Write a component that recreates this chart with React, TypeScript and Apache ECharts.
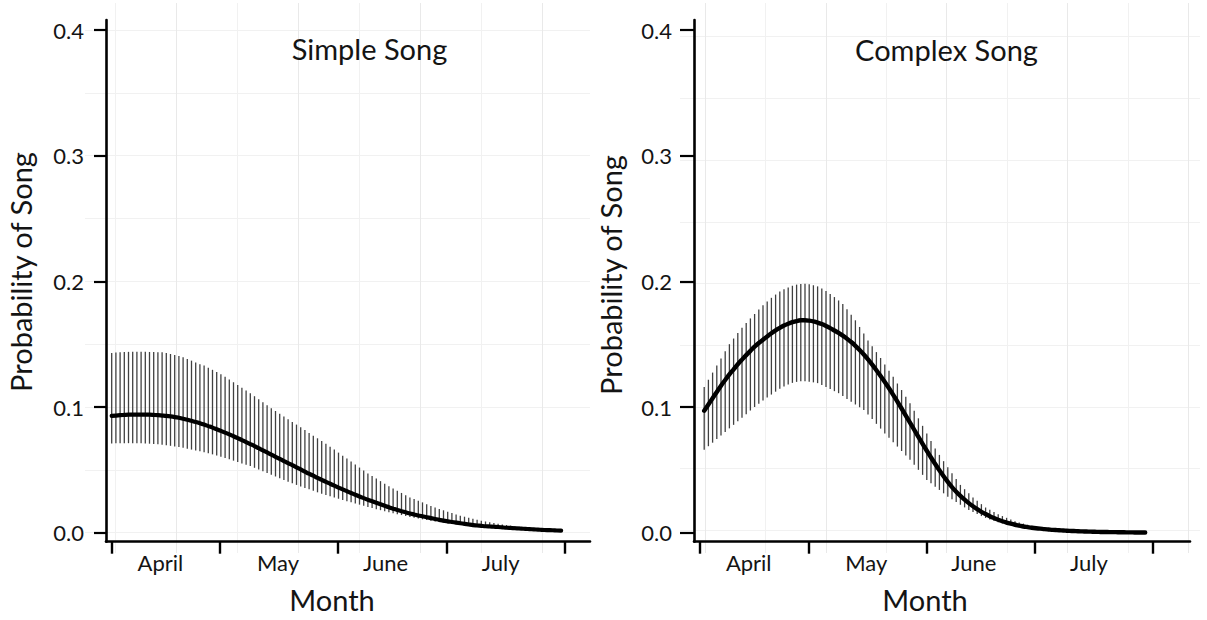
import { useEffect, useRef } from "react";
import * as echarts from "echarts";

// Month axis: tick positions and label positions, in days along the season
const months = ["April", "May", "June", "July"];
const monthTicks = [0, 25.8, 53.9, 79.7, 107.8];
const monthLabelDays = [11.6, 39.6, 65.2, 92.6];
const yTicks = [0, 0.1, 0.2, 0.3, 0.4];

// Simple song: fitted probability and interval, one value per day (day 0..107)
const simpleMean = [
  0.093, 0.0932, 0.0935, 0.0937, 0.0939, 0.094, 0.094, 0.094, 0.094, 0.0939,
  0.0937, 0.0935, 0.0932, 0.0929, 0.0925, 0.092, 0.0914, 0.0907, 0.0899, 0.089,
  0.0881, 0.0871, 0.086, 0.0848, 0.0836, 0.0823, 0.081, 0.0796, 0.0782, 0.0767,
  0.0752, 0.0737, 0.0721, 0.0705, 0.0689, 0.0672, 0.0655, 0.0638, 0.0621, 0.0604,
  0.0587, 0.057, 0.0553, 0.0537, 0.052, 0.0503, 0.0486, 0.0469, 0.0453, 0.0436,
  0.042, 0.0404, 0.0389, 0.0374, 0.0359, 0.0344, 0.033, 0.0316, 0.0302, 0.0288,
  0.0275, 0.0262, 0.025, 0.0238, 0.0226, 0.0214, 0.0202, 0.0191, 0.018, 0.0171,
  0.0162, 0.0153, 0.0145, 0.0137, 0.013, 0.0123, 0.0116, 0.0109, 0.0102, 0.0096,
  0.009, 0.0085, 0.008, 0.0075, 0.007, 0.0065, 0.006, 0.0057, 0.0054, 0.0051,
  0.0049, 0.0047, 0.0045, 0.0042, 0.0039, 0.0037, 0.0035, 0.0033, 0.0031, 0.0029,
  0.0027, 0.0025, 0.0023, 0.0021, 0.002, 0.0019, 0.0017, 0.0016,
];
const simpleUpper = [
  0.143, 0.1433, 0.1436, 0.1438, 0.1439, 0.144, 0.144, 0.144, 0.1439, 0.1438,
  0.1437, 0.1436, 0.1435, 0.1429, 0.1422, 0.1414, 0.1405, 0.1395, 0.1383, 0.1369,
  0.1355, 0.1341, 0.133, 0.1313, 0.1296, 0.1278, 0.126, 0.124, 0.1219, 0.1197,
  0.1175, 0.1153, 0.1131, 0.111, 0.1086, 0.1062, 0.1038, 0.1014, 0.099, 0.0968,
  0.0946, 0.0924, 0.0902, 0.0881, 0.086, 0.0838, 0.0816, 0.0794, 0.0772, 0.0751,
  0.073, 0.0707, 0.0684, 0.0661, 0.0637, 0.0613, 0.059, 0.0566, 0.0542, 0.0518,
  0.0494, 0.047, 0.045, 0.043, 0.041, 0.039, 0.037, 0.0352, 0.0334, 0.0316,
  0.0298, 0.028, 0.0267, 0.0254, 0.0241, 0.0227, 0.0213, 0.02, 0.0189, 0.0178,
  0.0167, 0.0156, 0.0145, 0.0135, 0.0127, 0.0119, 0.0111, 0.0103, 0.0095, 0.0089,
  0.0083, 0.0077, 0.0071, 0.0065, 0.0061, 0.0057, 0.0053, 0.0049, 0.0045, 0.0042,
  0.0039, 0.0037, 0.0034, 0.0031, 0.0029, 0.0027, 0.0024, 0.0022,
];
const simpleLower = [
  0.071, 0.0711, 0.0711, 0.0712, 0.0712, 0.0712, 0.0712, 0.0711, 0.071, 0.0708,
  0.0706, 0.0703, 0.07, 0.0696, 0.0691, 0.0686, 0.0681, 0.0675, 0.0668, 0.0661,
  0.0654, 0.0647, 0.064, 0.0632, 0.0623, 0.0614, 0.0605, 0.0595, 0.0584, 0.0573,
  0.0562, 0.0551, 0.054, 0.053, 0.0516, 0.0502, 0.0488, 0.0474, 0.046, 0.0447,
  0.0433, 0.042, 0.0406, 0.0393, 0.038, 0.0368, 0.0356, 0.0345, 0.0333, 0.0321,
  0.031, 0.03, 0.029, 0.028, 0.027, 0.026, 0.025, 0.0241, 0.0232, 0.0223,
  0.0214, 0.0205, 0.0196, 0.0187, 0.0179, 0.017, 0.0162, 0.0155, 0.0147, 0.014,
  0.0132, 0.0125, 0.0119, 0.0113, 0.0106, 0.01, 0.0094, 0.0088, 0.0084, 0.0079,
  0.0075, 0.0071, 0.0066, 0.0062, 0.0059, 0.0055, 0.0052, 0.0048, 0.0045, 0.0043,
  0.0041, 0.0038, 0.0036, 0.0034, 0.0032, 0.003, 0.0028, 0.0027, 0.0025, 0.0023,
  0.0022, 0.002, 0.0019, 0.0018, 0.0016, 0.0015, 0.0014, 0.0012,
];

// Complex song: fitted probability and interval, one value per day (day 1..106)
const complexMean = [
  0.097, 0.102, 0.107, 0.112, 0.117, 0.1215, 0.126, 0.13, 0.134, 0.1377,
  0.1413, 0.1447, 0.148, 0.1509, 0.1536, 0.1562, 0.1587, 0.161, 0.163, 0.1648,
  0.1663, 0.1675, 0.1684, 0.169, 0.1691, 0.1687, 0.1681, 0.1672, 0.166, 0.1645,
  0.1628, 0.1609, 0.159, 0.1568, 0.1544, 0.1517, 0.1487, 0.1454, 0.1418, 0.1379,
  0.1337, 0.1293, 0.1247, 0.1199, 0.1149, 0.1097, 0.1043, 0.0988, 0.0932, 0.0876,
  0.0819, 0.0763, 0.0707, 0.0652, 0.0598, 0.0546, 0.0496, 0.0449, 0.0404, 0.0362,
  0.0326, 0.0293, 0.0263, 0.0235, 0.021, 0.0187, 0.0166, 0.0148, 0.0131, 0.0116,
  0.0103, 0.0091, 0.008, 0.0071, 0.0063, 0.0056, 0.0049, 0.0044, 0.0039, 0.0035,
  0.0032, 0.0028, 0.0025, 0.0022, 0.002, 0.0018, 0.0016, 0.0014, 0.0013, 0.0011,
  0.001, 0.0009, 0.0008, 0.0007, 0.0006, 0.0005, 0.0005, 0.0004, 0.0004, 0.0003,
  0.0003, 0.0002, 0.0002, 0.0001, 0.0001, 0.0001,
];
const complexUpper = [
  0.116, 0.1217, 0.1274, 0.133, 0.1387, 0.1443, 0.15, 0.1545, 0.1589, 0.163,
  0.1668, 0.1705, 0.174, 0.1775, 0.1809, 0.184, 0.1869, 0.1895, 0.192, 0.1937,
  0.1952, 0.1965, 0.1974, 0.1979, 0.198, 0.1976, 0.1969, 0.196, 0.1943, 0.1923,
  0.19, 0.1875, 0.1848, 0.182, 0.1778, 0.1735, 0.169, 0.1637, 0.1584, 0.153,
  0.1483, 0.1437, 0.139, 0.1339, 0.1289, 0.124, 0.1187, 0.1135, 0.1082, 0.103,
  0.097, 0.091, 0.085, 0.079, 0.073, 0.067, 0.0619, 0.0569, 0.052, 0.0473,
  0.0427, 0.038, 0.0346, 0.0313, 0.028, 0.0253, 0.0227, 0.02, 0.0182, 0.0164,
  0.0146, 0.0132, 0.0118, 0.0104, 0.009, 0.0081, 0.0072, 0.0063, 0.0054, 0.0046,
  0.0042, 0.0038, 0.0034, 0.0031, 0.0028, 0.0025, 0.0023, 0.0021, 0.0019, 0.0017,
  0.0015, 0.0014, 0.0012, 0.0011, 0.001, 0.0009, 0.0008, 0.0007, 0.0006, 0.0006,
  0.0005, 0.0004, 0.0004, 0.0003, 0.0003, 0.0002,
];
const complexLower = [
  0.066, 0.0688, 0.0716, 0.0745, 0.0773, 0.0802, 0.083, 0.0858, 0.0887, 0.0915,
  0.0943, 0.0972, 0.1, 0.1026, 0.1051, 0.1075, 0.1099, 0.1122, 0.1145, 0.1163,
  0.1179, 0.1192, 0.12, 0.1204, 0.1204, 0.1201, 0.1196, 0.119, 0.1176, 0.116,
  0.1143, 0.1126, 0.111, 0.1087, 0.1064, 0.1042, 0.102, 0.0998, 0.0976, 0.094,
  0.0904, 0.0866, 0.0828, 0.079, 0.0755, 0.072, 0.0685, 0.065, 0.0615, 0.058,
  0.054, 0.05, 0.046, 0.042, 0.0393, 0.0366, 0.034, 0.0313, 0.0286, 0.0265,
  0.0244, 0.0222, 0.0201, 0.018, 0.0164, 0.0148, 0.0132, 0.0117, 0.0104, 0.0092,
  0.0082, 0.0073, 0.0065, 0.0058, 0.0051, 0.0045, 0.004, 0.0035, 0.0031, 0.0028,
  0.0025, 0.0022, 0.002, 0.0018, 0.0016, 0.0014, 0.0013, 0.0011, 0.001, 0.0009,
  0.0008, 0.0007, 0.0006, 0.0005, 0.0004, 0.0004, 0.0003, 0.0003, 0.0002, 0.0002,
  0.0001, 0.0001, 0.0001, 0, 0, 0,
];

const FONT = "Lato";
const INK = "#141414";
const GRID_INK = ["#f1f1f1", "#e9e9e9"];
const PX_PER_DAY = 4.2;
const PLOT_TOP = 20;
const PLOT_HEIGHT = 521.7;
const Y_MIN = -0.0072;
const Y_MAX = 0.408;

type Panel = {
  title: string;
  titleX: number;
  titleY: number;
  axisLeft: number;
  axisRight: number;
  dayZeroX: number;
  monthX: number;
  yNameX: number;
  yNameY: number;
  yTickLen: number;
  firstDay: number;
  mean: number[];
  upper: number[];
  lower: number[];
  lineWidth: number;
  // faint background lattice
  vLeft: number;
  vStep: number;
  vCount: number;
  vColors: string[];
  hLeft: number;
  hRight: number;
  hTop: number;
  hStep: number;
  hCount: number;
};

const panels: Panel[] = [
  {
    title: "Simple Song", titleX: 369.5, titleY: 48,
    axisLeft: 106, axisRight: 590, dayZeroX: 111.7,
    monthX: 332, yNameX: 20, yNameY: 272, yTickLen: 12,
    firstDay: 0, mean: simpleMean, upper: simpleUpper, lower: simpleLower, lineWidth: 4.2,
    vLeft: 115, vStep: 61, vCount: 7, vColors: [GRID_INK[0], GRID_INK[1]],
    hLeft: 85, hRight: 590, hTop: 30, hStep: 62.84, hCount: 8,
  },
  {
    title: "Complex Song", titleX: 946.5, titleY: 49,
    axisLeft: 694, axisRight: 1190, dayZeroX: 700,
    monthX: 925, yNameX: 610, yNameY: 275, yTickLen: 14,
    firstDay: 1, mean: complexMean, upper: complexUpper, lower: complexLower, lineWidth: 4.4,
    vLeft: 705, vStep: 60.4, vCount: 8, vColors: [GRID_INK[1], GRID_INK[0]],
    hLeft: 680, hRight: 1200, hTop: 36.7, hStep: 61.7, hCount: 8,
  },
];

function buildOption() {
  const grid: any[] = [];
  const xAxis: any[] = [];
  const yAxis: any[] = [];
  const series: any[] = [];
  const graphic: any[] = [];

  const hidden = { show: false };

  panels.forEach((p) => {
    // background lattice: vertical lines
    const vIdx = grid.length;
    grid.push({ left: p.vLeft, top: 3, width: p.vStep * p.vCount, height: 550 });
    xAxis.push({
      gridIndex: vIdx, type: "value", min: 0, max: p.vCount, interval: 1, z: 0,
      axisLine: hidden, axisTick: hidden, axisLabel: hidden,
      splitLine: { show: true, lineStyle: { color: p.vColors, width: 1 } },
    });
    yAxis.push({ gridIndex: vIdx, type: "value", show: false, splitLine: hidden });

    // background lattice: horizontal lines
    const hIdx = grid.length;
    grid.push({ left: p.hLeft, top: p.hTop, width: p.hRight - p.hLeft, height: p.hStep * p.hCount });
    xAxis.push({ gridIndex: hIdx, type: "value", show: false, splitLine: hidden });
    yAxis.push({
      gridIndex: hIdx, type: "value", min: 0, max: p.hCount, interval: 1, z: 0,
      axisLine: hidden, axisTick: hidden, axisLabel: hidden,
      splitLine: { show: true, lineStyle: { color: GRID_INK[0], width: 1 } },
    });
  });

  panels.forEach((p) => {
    const gi = grid.length;
    grid.push({ left: p.axisLeft, top: PLOT_TOP, width: p.axisRight - p.axisLeft, height: PLOT_HEIGHT });
    xAxis.push({
      gridIndex: gi, type: "value", z: 5,
      min: (p.axisLeft - p.dayZeroX) / PX_PER_DAY,
      max: (p.axisRight - p.dayZeroX) / PX_PER_DAY,
      axisLine: { show: true, onZero: false, lineStyle: { color: "#000", width: 2.6 } },
      axisTick: { show: true, customValues: monthTicks, length: 12, lineStyle: { color: "#000", width: 2.4 } },
      axisLabel: {
        show: true, customValues: monthLabelDays, margin: 10,
        fontFamily: FONT, fontSize: 22, color: INK,
        formatter: (v: number) => {
          const k = monthLabelDays.findIndex((d) => Math.abs(d - v) < 0.01);
          return k >= 0 ? months[k] : "";
        },
      },
      splitLine: hidden,
    });
    yAxis.push({
      gridIndex: gi, type: "value", z: 5, min: Y_MIN, max: Y_MAX,
      axisLine: { show: true, onZero: false, lineStyle: { color: "#000", width: 2.6 } },
      axisTick: { show: true, customValues: yTicks, length: p.yTickLen, lineStyle: { color: "#000", width: 2.2 } },
      axisLabel: {
        show: true, customValues: yTicks, margin: 22,
        fontFamily: FONT, fontSize: 22, color: INK,
        formatter: (v: number) => v.toFixed(1),
      },
      splitLine: hidden,
    });

    const days = p.mean.map((_, i) => p.firstDay + i);
    series.push({
      type: "custom",
      xAxisIndex: gi,
      yAxisIndex: gi,
      z: 2,
      data: days.map((d, i) => [d, p.lower[i], p.upper[i]]),
      encode: { x: 0, y: [1, 2] },
      renderItem: (_params: any, api: any) => {
        const lo = api.coord([api.value(0), api.value(1)]);
        const hi = api.coord([api.value(0), api.value(2)]);
        return {
          type: "line",
          shape: { x1: lo[0], y1: lo[1], x2: hi[0], y2: hi[1] },
          style: { stroke: "#404040", lineWidth: 1.3 },
        };
      },
    });
    series.push({
      type: "line",
      xAxisIndex: gi,
      yAxisIndex: gi,
      z: 3,
      showSymbol: false,
      symbol: "none",
      smooth: 0.3,
      data: days.map((d, i) => [d, p.mean[i]]),
      lineStyle: { color: "#000", width: p.lineWidth, cap: "round", join: "round" },
    });

    graphic.push(
      {
        type: "text", x: p.titleX, y: p.titleY, z: 10,
        style: { text: p.title, fontFamily: FONT, fontSize: 29, fill: INK, align: "center", verticalAlign: "middle" },
      },
      {
        type: "text", x: p.monthX, y: 599, z: 10,
        style: { text: "Month", fontFamily: FONT, fontSize: 29, fill: INK, align: "center", verticalAlign: "middle" },
      },
      {
        type: "text", x: p.yNameX, y: p.yNameY, rotation: Math.PI / 2, z: 10,
        style: { text: "Probability of Song", fontFamily: FONT, fontSize: 29, fill: INK, align: "center", verticalAlign: "middle" },
      },
    );
  });

  return {
    animation: false,
    backgroundColor: "#ffffff",
    grid,
    xAxis,
    yAxis,
    series,
    graphic,
  };
}

export default function App() {
  const ref = useRef<HTMLDivElement>(null);

  useEffect(() => {
    if (!ref.current) return;
    const chart = echarts.init(ref.current, undefined, { renderer: "svg" });
    chart.setOption(buildOption() as any);
    return () => chart.dispose();
  }, []);

  return (
    <div
      ref={ref}
      style={{ position: "absolute", left: 0, top: 0, width: 1207, height: 620 }}
    />
  );
}
